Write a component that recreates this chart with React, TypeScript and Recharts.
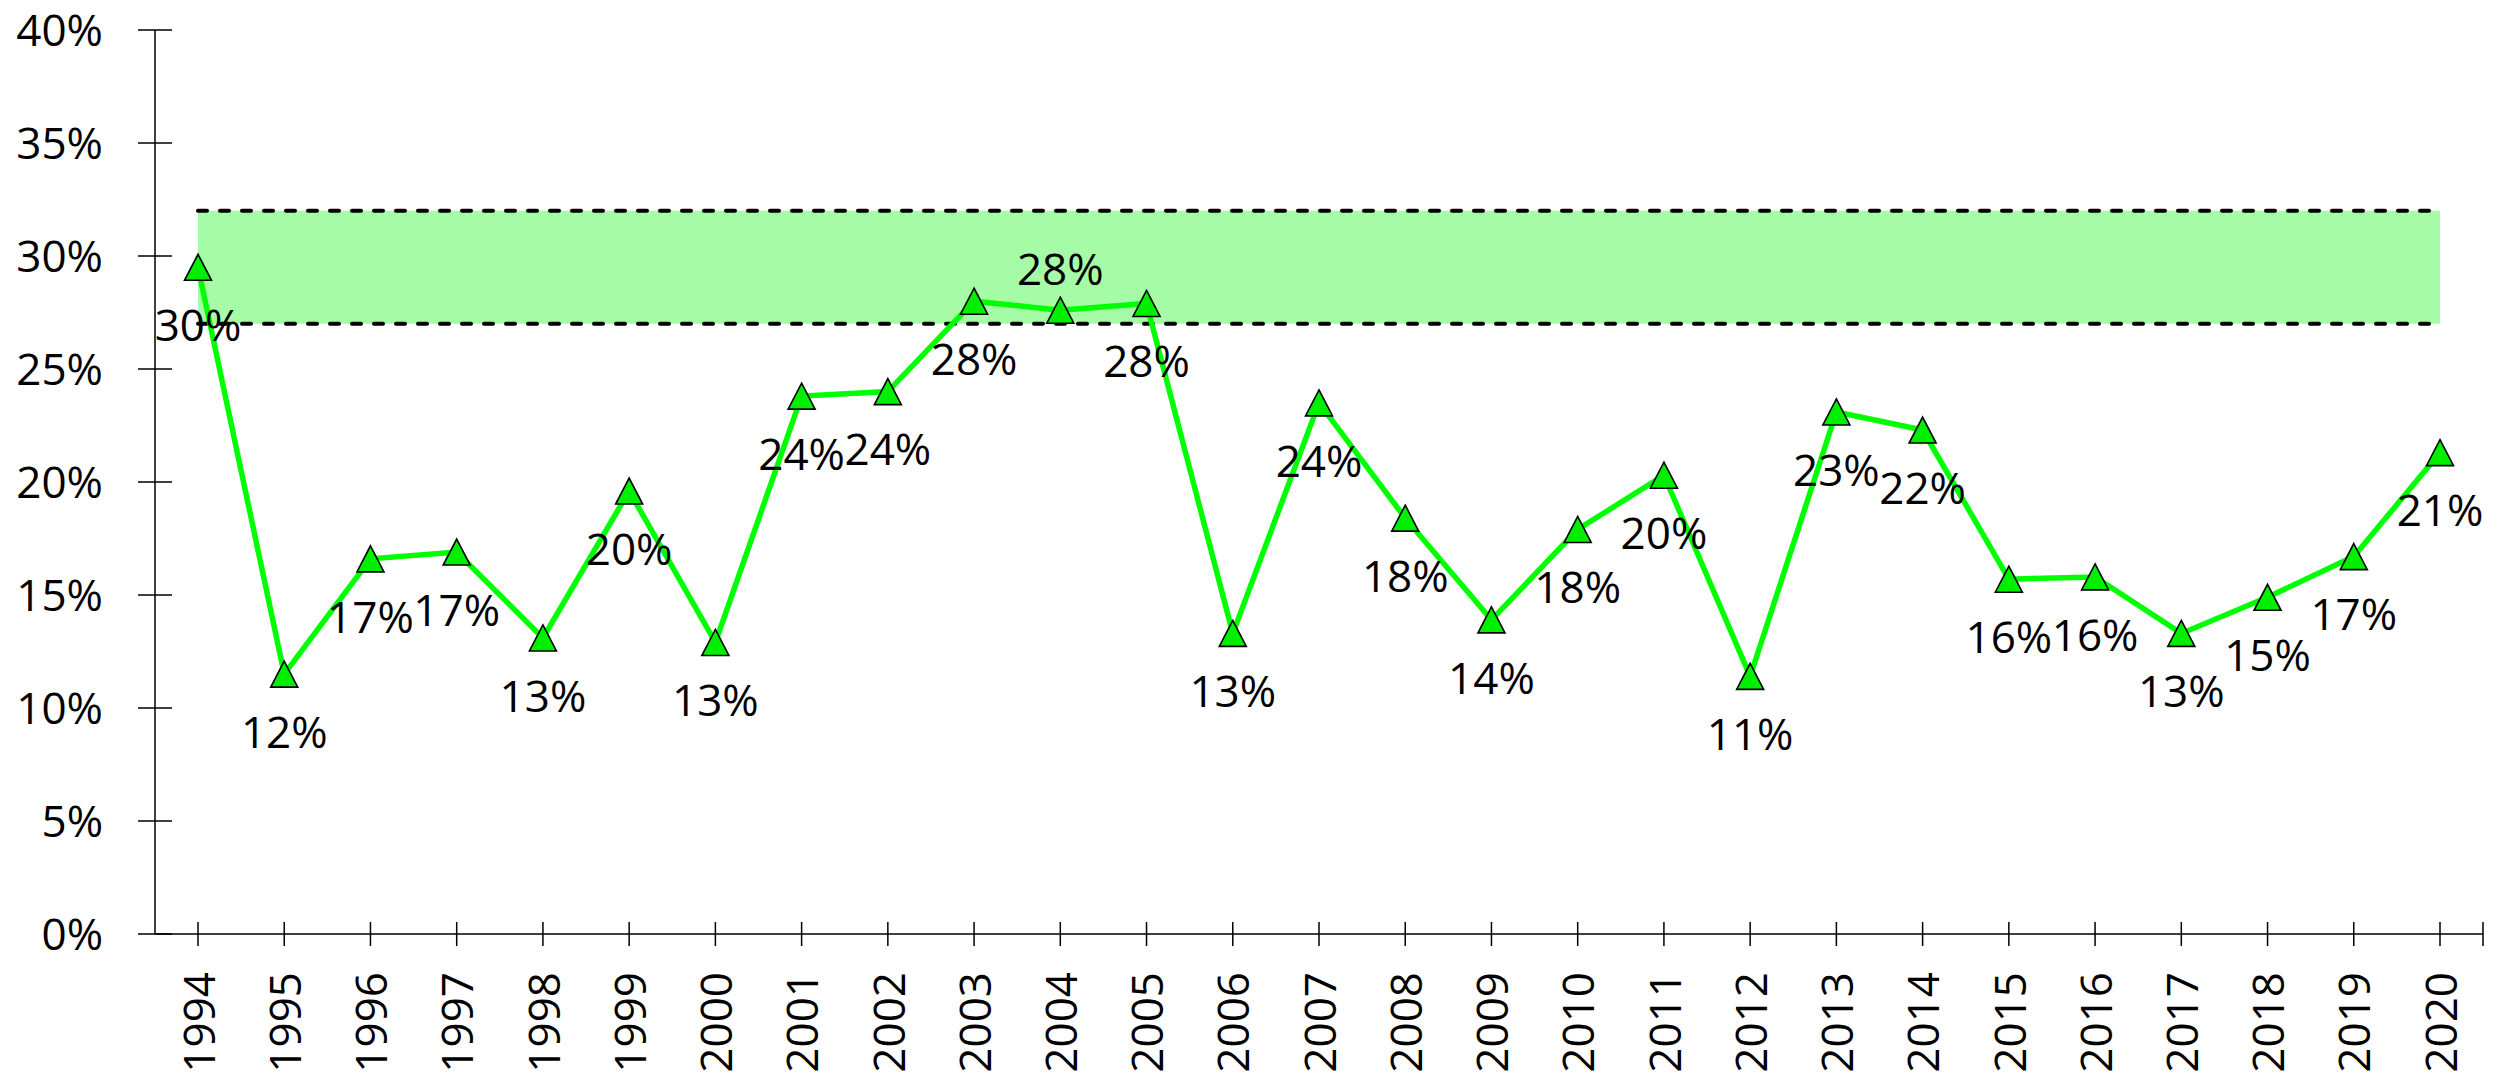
import React from 'react'
import { ComposedChart, Line, Area, XAxis, YAxis, LabelList } from 'recharts';

const years = ['1994', '1995', '1996', '1997', '1998', '1999', '2000', '2001', '2002', '2003', '2004', '2005', '2006', '2007', '2008', '2009', '2010', '2011', '2012', '2013', '2014', '2015', '2016', '2017', '2018', '2019', '2020'];
const shares = [29.5, 11.5, 16.6, 16.9, 13.1, 19.6, 12.9, 23.8, 24.0, 28.0, 27.6, 27.9, 13.3, 23.5, 18.4, 13.9, 17.9, 20.3, 11.4, 23.1, 22.3, 15.7, 15.8, 13.3, 14.9, 16.7, 21.3];
const bandLow = 27;
const bandHigh = 32;
const yTicks = [0, 5, 10, 15, 20, 25, 30, 35, 40];
const labelAbove = ['2004'];

const FONT = '"Open Sans", sans-serif';
const HALF_STEP = 43;

const data = years.map((year, i) => ({
  year,
  share: shares[i],
  band: [bandLow, bandHigh],
  low: bandLow,
  high: bandHigh,
}));

const YTick = ({ x, y, payload }) => (
  <g>
    <line x1={x + 35} x2={x + 69} y1={y} y2={y} stroke="#000" strokeWidth={1.5} />
    <text x={x} y={y} dy="0.36em" textAnchor="end" fontFamily={FONT} fontSize={44} fill="#000">
      {payload.value + '%'}
    </text>
  </g>
);

const XTick = ({ x, y, payload, index }) => {
  const axisY = y - 38;
  return (
    <g>
      <line x1={x} x2={x} y1={axisY - 12} y2={axisY + 12} stroke="#000" strokeWidth={1.5} />
      {index === years.length - 1 && (
        <line x1={x + HALF_STEP} x2={x + HALF_STEP} y1={axisY - 12} y2={axisY + 12} stroke="#000" strokeWidth={1.5} />
      )}
      <text x={x} y={y} dy="0.38em" textAnchor="end" transform={`rotate(-90, ${x}, ${y})`} fontFamily={FONT} fontSize={44} fill="#000">
        {payload.value}
      </text>
    </g>
  );
};

const TriangleDot = (props) => {
  const { cx, cy, index } = props;
  if (cx == null || cy == null) return null;
  const w = 13.5;
  const h = 13;
  return (
    <path
      key={'tri-' + index}
      d={`M${cx},${cy - h} L${cx + w},${cy + h} L${cx - w},${cy + h} Z`}
      fill="#00ee00"
      stroke="#000"
      strokeWidth={1.6}
      strokeLinejoin="miter"
    />
  );
};

const ShareLabel = (props) => {
  const { x, y, value, index } = props;
  const above = labelAbove.includes(years[index]);
  return (
    <text
      x={x}
      y={above ? y - 41 : y + 58}
      dy="0.36em"
      textAnchor="middle"
      fontFamily={FONT}
      fontSize={44}
      fill="#000"
    >
      {Math.round(value) + '%'}
    </text>
  );
};

export default function App() {
  return (
    <div style={{ position: 'absolute', left: 0, top: 0, width: 2506, height: 1080, background: '#fff' }}>
      <ComposedChart
        width={2506}
        height={1080}
        data={data}
        margin={{ top: 30, right: 23, left: 0, bottom: 0 }}
      >
        <XAxis
          dataKey="year"
          height={146}
          padding={{ left: HALF_STEP, right: HALF_STEP }}
          axisLine={{ stroke: '#000', strokeWidth: 1.5 }}
          tickLine={false}
          tickSize={12}
          tickMargin={26}
          interval={0}
          tick={<XTick />}
        />
        <YAxis
          width={155}
          domain={[0, 40]}
          ticks={yTicks}
          interval={0}
          axisLine={{ stroke: '#000', strokeWidth: 1.5 }}
          tickLine={false}
          tickSize={17}
          tickMargin={35}
          tick={<YTick />}
        />
        <Area
          dataKey="band"
          type="linear"
          fill="#a6fba6"
          fillOpacity={1}
          stroke="none"
          isAnimationActive={false}
          activeDot={false}
        />
        <Line
          dataKey="high"
          type="linear"
          stroke="#000"
          strokeWidth={4}
          strokeDasharray="9 13"
          strokeLinecap="round"
          dot={false}
          activeDot={false}
          isAnimationActive={false}
        />
        <Line
          dataKey="low"
          type="linear"
          stroke="#000"
          strokeWidth={4}
          strokeDasharray="9 13"
          strokeLinecap="round"
          dot={false}
          activeDot={false}
          isAnimationActive={false}
        />
        <Line
          dataKey="share"
          type="linear"
          stroke="#00ff00"
          strokeWidth={5.5}
          dot={TriangleDot}
          activeDot={false}
          isAnimationActive={false}
        >
          <LabelList dataKey="share" content={ShareLabel} />
        </Line>
      </ComposedChart>
    </div>
  );
}
